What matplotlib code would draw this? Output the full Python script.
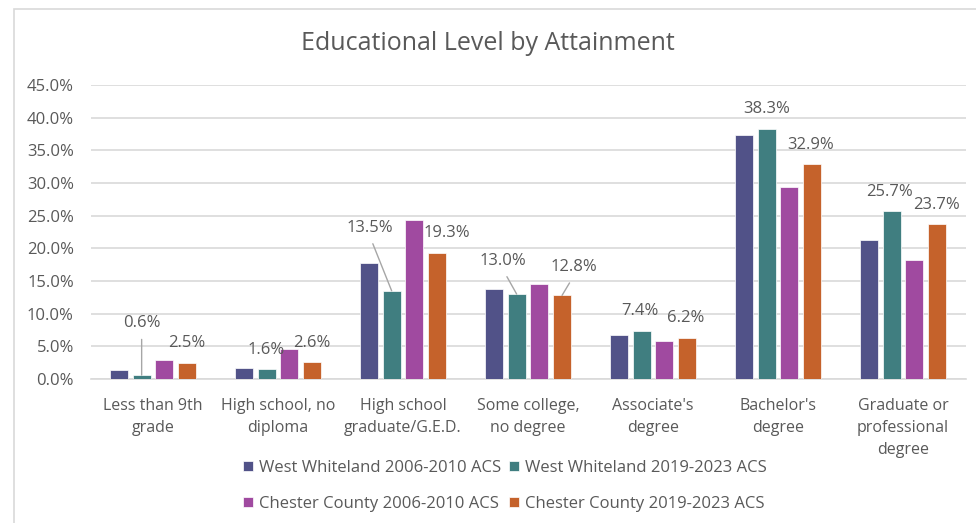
import matplotlib.pyplot as plt
import numpy as np
from matplotlib.patches import Rectangle

# Share of adults 25+ by highest level of school completed (percent)
categories = ["Less than 9th\ngrade", "High school, no\ndiploma", "High school\ngraduate/G.E.D.",
              "Some college,\nno degree", "Associate's\ndegree", "Bachelor's\ndegree",
              "Graduate or\nprofessional\ndegree"]
ww_2010 = [1.4, 1.7, 17.7, 13.8, 6.8, 37.3, 21.3]
ww_2023 = [0.6, 1.6, 13.5, 13.0, 7.4, 38.3, 25.7]
cc_2010 = [2.9, 4.6, 24.3, 14.6, 5.8, 29.4, 18.2]
cc_2023 = [2.5, 2.6, 19.3, 12.8, 6.2, 32.9, 23.7]
series_names = ["West Whiteland 2006-2010 ACS", "West Whiteland 2019-2023 ACS",
                "Chester County 2006-2010 ACS", "Chester County 2019-2023 ACS"]
colors = ["#515288", "#407E80", "#A04AA0", "#C5622B"]

plt.rcParams['font.family'] = ['Open Sans', 'DejaVu Sans']
text_col = "#595959"

fig = plt.figure(figsize=(9.76, 5.23), dpi=100)
ax = fig.add_axes([90.5 / 976, 1 - 379 / 523, 875 / 976, 294 / 523])

x = np.arange(len(categories))
step = 0.1816
width = 0.144
all_series = [ww_2010, ww_2023, cc_2010, cc_2023]
bars = []
for i, (vals, name, col) in enumerate(zip(all_series, series_names, colors)):
    b = ax.bar(x + (i - 1.5) * step, vals, width, color=col, label=name,
               edgecolor="white", linewidth=0.5, zorder=3)
    bars.append(b)

# data labels for the 2019-2023 series, offsets in pixels from bar top
# (dx, dy, leader line)
ww_offsets = [(0, 52, True), (0, 19, False), (-22, 63, True), (-14, 33, True),
              (-2, 20, False), (0, 20, False), (-2, 19, False)]
cc_offsets = [(0, 20, False), (0, 19, False), (10, 20, False), (12, 28, True),
              (-1, 20, False), (-1, 19, False), (-1, 19, False)]

for idx, vals, offs in [(1, ww_2023, ww_offsets), (3, cc_2023, cc_offsets)]:
    for k, v in enumerate(vals):
        dx, dy, leader = offs[k]
        kw = {}
        if leader:
            kw["arrowprops"] = dict(arrowstyle="-", color="#A6A6A6", lw=1,
                                    relpos=(0.5, 0), shrinkA=4, shrinkB=0)
        ax.annotate(f"{v:.1f}%", xy=(x[k] + (idx - 1.5) * step, v),
                    xytext=(dx, dy), textcoords="offset pixels",
                    ha="center", va="center", fontsize=12, color=text_col,
                    zorder=4, **kw)

ax.set_xlim(-0.5, len(categories) - 0.5)
ax.set_ylim(0, 45)
ax.set_yticks(np.arange(0, 46, 5))
ax.set_yticklabels([f"{t:.1f}%" for t in np.arange(0, 46, 5)])
ax.set_xticks(x)
ax.set_xticklabels(categories, linespacing=1.5)
ax.tick_params(axis="both", length=0, labelcolor=text_col)
ax.tick_params(axis="y", pad=12, labelsize=12)
ax.tick_params(axis="x", pad=14, labelsize=11.5)
ax.grid(axis="y", color="#D9D9D9", lw=1.2, zorder=0)
for s in ["top", "left", "right"]:
    ax.spines[s].set_visible(False)
ax.spines["bottom"].set_color("#D9D9D9")
ax.spines["bottom"].set_linewidth(1.2)

fig.text(0.5, 1 - 44 / 523, "Educational Level by Attainment", ha="center",
         va="center", fontsize=18, color=text_col)

# legend filled row by row
order = [0, 2, 1, 3]
fig.legend([bars[i] for i in order], [series_names[i] for i in order],
           loc="center", bbox_to_anchor=(505 / 976, 1 - 486 / 523), ncol=2,
           frameon=False, fontsize=12, labelcolor=text_col, handlelength=0.6,
           handleheight=0.6, handletextpad=0.35, columnspacing=0.5,
           labelspacing=1.2)

# chart frame
fig.patches.append(Rectangle((14 / 976, -0.1), 1.2, 1 - 9 / 523 + 0.1,
                             transform=fig.transFigure, fill=False,
                             edgecolor="#D9D9D9", lw=1.2))

fig.savefig("out.png", dpi=100)
